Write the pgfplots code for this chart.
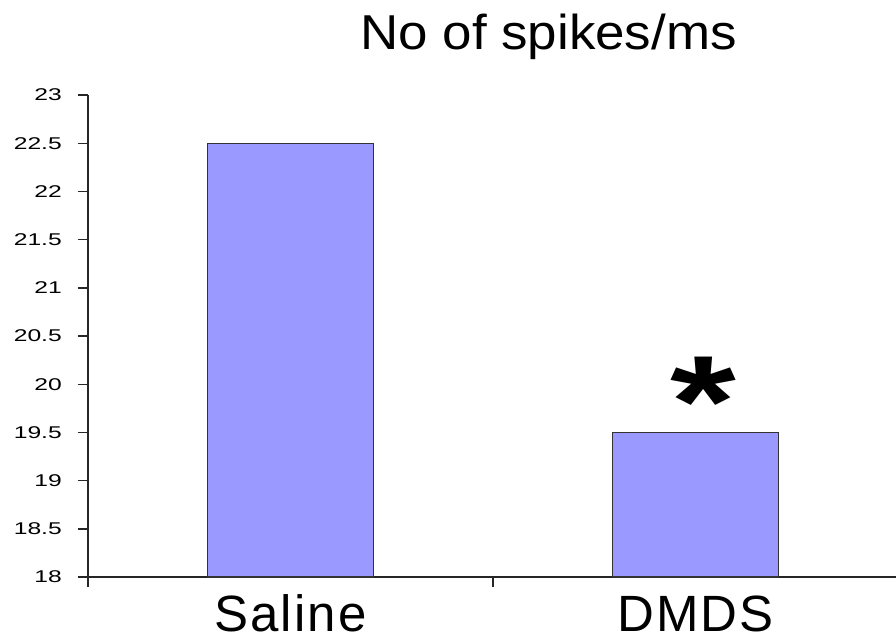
\documentclass[border=0pt]{standalone}
\usepackage{fontspec}
\usepackage{graphicx}
\setmainfont{Liberation Sans}
\newfontfamily\tickfont[FakeStretch=1.45]{Liberation Sans}
\newfontfamily\titlefont[FakeStretch=1.08]{Liberation Sans}
\newfontfamily\catfont[LetterSpace=4]{Liberation Sans}
\usepackage{pgfplots}
\pgfplotsset{compat=1.18}
\definecolor{barblue}{RGB}{153,153,255}
\begin{document}
\begin{tikzpicture}[x=1pt,y=1pt]
\path[use as bounding box] (0,0) rectangle (896,640);
\begin{axis}[
  at={(88pt,63pt)}, anchor=south west,
  scale only axis, width=810pt, height=482pt,
  xmin=-0.5, xmax=1.5, ymin=18, ymax=23,
  axis x line*=bottom, axis y line*=left,
  axis line style={line width=1.6pt, black!85},
  tick align=outside,
  major tick length=10pt,
  tick style={line width=1.4pt, black!85},
  ytick={18,18.5,19,19.5,20,20.5,21,21.5,22,22.5,23},
  /pgf/number format/assume math mode=true,
  yticklabel style={font=\tickfont\fontsize{17}{17}\selectfont, anchor=east, inner sep=0pt, xshift=-16pt},
  xtick={-0.5,0.5,1.5},
  xticklabels={},
  extra x ticks={0,1},
  extra x tick labels={Saline,DMDS},
  extra x tick style={major tick length=0pt,
    xticklabel style={font=\catfont\fontsize{51}{51}\selectfont, anchor=base, inner sep=0pt, yshift=-54pt}},
]
\addplot[ybar, bar width=0.41, fill=barblue, draw=black!80, line width=1.3pt]
  coordinates {(0,22.5) (1,19.5)};
\node[font=\fontsize{130}{130}\selectfont\bfseries, anchor=north, inner sep=0pt] at (axis cs:1.02,20.28) {\scalebox{1.3}[1]{*}};
\end{axis}
\node[font=\titlefont\fontsize{49}{49}\selectfont, anchor=base] at (548.5,590) {No of spikes/ms};
\end{tikzpicture}
\end{document}
